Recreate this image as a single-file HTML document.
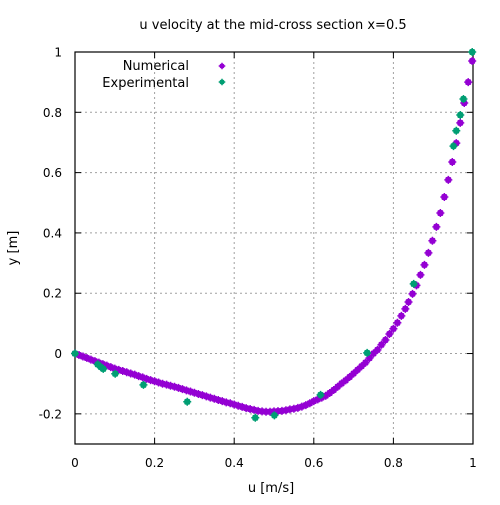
<!DOCTYPE html>
<html><head><meta charset="utf-8"><style>
html,body{margin:0;padding:0;background:#fff}
svg text{font-family:"DejaVu Sans","Liberation Sans",sans-serif;font-size:13px;fill:#000}
svg text.tick{font-size:12px}
</style></head><body>
<svg id="chart" width="500" height="500">
<rect width="500" height="500" fill="#fff"/>
<g id="grid"></g>
<g id="axes"></g>
<g id="marks"></g>
<text x="273" y="29" text-anchor="middle">u velocity at the mid-cross section x=0.5</text>
<text x="271" y="492" text-anchor="middle">u [m/s]</text>
<text x="17" y="248" text-anchor="middle" transform="rotate(-90 17 248)">y [m]</text>
<g>
<text x="189" y="70" text-anchor="end">Numerical</text>
<text x="189" y="87" text-anchor="end">Experimental</text>
</g>
</svg>
<script>
const numU = [0,0.01,0.02,0.03,0.04,0.05,0.06,0.07,0.08,0.09,0.10,0.11,0.12,0.13,0.14,0.15,0.16,0.17,0.18,0.19,0.20,0.21,0.22,0.23,0.24,0.25,0.26,0.27,0.28,0.29,0.30,0.31,0.32,0.33,0.34,0.35,0.36,0.37,0.38,0.39,0.40,0.41,0.42,0.43,0.44,0.45,0.46,0.47,0.48,0.49,0.50,0.51,0.52,0.53,0.54,0.55,0.56,0.57,0.58,0.59,0.60,0.61,0.62,0.63,0.64,0.65,0.66,0.67,0.68,0.69,0.70,0.71,0.72,0.73,0.74,0.75,0.76,0.77,0.78,0.79,0.80,0.81,0.82,0.83,0.838,0.848,0.858,0.868,0.878,0.888,0.898,0.908,0.918,0.928,0.938,0.948,0.958,0.968,0.978,0.988,0.998];
const numY = [0,-0.005,-0.01,-0.015,-0.02,-0.025,-0.03,-0.035,-0.04,-0.045,-0.05,-0.054,-0.058,-0.062,-0.066,-0.07,-0.075,-0.079,-0.084,-0.088,-0.092,-0.096,-0.1,-0.103,-0.107,-0.11,-0.114,-0.118,-0.122,-0.126,-0.13,-0.134,-0.138,-0.142,-0.146,-0.15,-0.154,-0.158,-0.162,-0.165,-0.169,-0.173,-0.177,-0.181,-0.184,-0.187,-0.19,-0.192,-0.193,-0.193,-0.192,-0.191,-0.19,-0.188,-0.185,-0.183,-0.18,-0.176,-0.171,-0.165,-0.158,-0.152,-0.146,-0.14,-0.131,-0.121,-0.11,-0.099,-0.089,-0.078,-0.066,-0.054,-0.042,-0.03,-0.015,0,0.012,0.029,0.045,0.065,0.082,0.102,0.125,0.148,0.171,0.198,0.226,0.261,0.294,0.334,0.374,0.42,0.466,0.519,0.576,0.635,0.698,0.765,0.831,0.9,0.97];
const expU = [0,0.057,0.065,0.071,0.101,0.172,0.282,0.453,0.501,0.617,0.734,0.851,0.951,0.958,0.968,0.976,0.998];
const expY = [0,-0.036,-0.045,-0.051,-0.067,-0.104,-0.16,-0.213,-0.205,-0.137,0.002,0.231,0.688,0.739,0.791,0.844,1.0];
const xTicks = [0,0.2,0.4,0.6,0.8,1];
const xTickLabels = ["0","0.2","0.4","0.6","0.8","1"];
const yTicks = [-0.2,0,0.2,0.4,0.6,0.8,1];
const yTickLabels = ["-0.2","0","0.2","0.4","0.6","0.8","1"];

const L=75,R=473,T=52,B=444,YMIN=-0.3,YMAX=1;
const sx=u=>L+u*(R-L);
const sy=y=>B-(y-YMIN)/(YMAX-YMIN)*(B-T);
const NS="http://www.w3.org/2000/svg";
function mk(tag,attrs,parent){const e=document.createElementNS(NS,tag);for(const k in attrs)e.setAttribute(k,attrs[k]);parent.appendChild(e);return e;}
const grid=document.getElementById('grid'),axes=document.getElementById('axes'),marks=document.getElementById('marks');
xTicks.forEach((v,i)=>{
  const x=sx(v);
  if(i>0&&i<xTicks.length-1){const g=mk('line',{x1:x,x2:x,y1:T,y2:B,stroke:'#a0a0a0','stroke-dasharray':'2,3'},grid);
  
  }
  mk('line',{x1:x,x2:x,y1:B,y2:B-6,stroke:'#000'},axes);
  mk('line',{x1:x,x2:x,y1:T,y2:T+6,stroke:'#000'},axes);
  const t=mk('text',{x:x,y:467,'text-anchor':'middle','class':'tick'},axes);t.textContent=xTickLabels[i];
  
  
});
yTicks.forEach((v,i)=>{
  const y=sy(v);
  if(i<yTicks.length-1){const g=mk('line',{x1:L,x2:R,y1:y,y2:y,stroke:'#a0a0a0','stroke-dasharray':'2,3'},grid);
  
  }
  mk('line',{x1:L,x2:L+6,y1:y,y2:y,stroke:'#000'},axes);
  mk('line',{x1:R,x2:R-6,y1:y,y2:y,stroke:'#000'},axes);
  const t=mk('text',{x:62,y:y+4.5,'text-anchor':'end','class':'tick'},axes);t.textContent=yTickLabels[i];
  
  
});
const frame=mk('rect',{x:L,y:T,width:R-L,height:B-T,fill:'none',stroke:'#000','stroke-width':1.2},axes);


function marker(x,y,c,r){
  const g=mk('g',{},marks);
  mk('rect',{x:x-r,y:y-r,width:2*r,height:2*r,rx:r*0.6,fill:c},g);
  mk('path',{d:`M${x-r-1},${y}H${x+r+1}M${x},${y-r-1}V${y+r+1}`,stroke:c,'stroke-width':1.5},g);
  return g;
}
numU.forEach((u,i)=>{const m=marker(sx(u),sy(numY[i]),'#9400d3',3);
  
  });
expU.forEach((u,i)=>{const m=marker(sx(u),sy(expY[i]),'#009e73',3);
  
  });
const l1=marker(222,66,'#9400d3',2.3);


const l2=marker(222,82,'#009e73',2.3);


</script>
</body></html>
